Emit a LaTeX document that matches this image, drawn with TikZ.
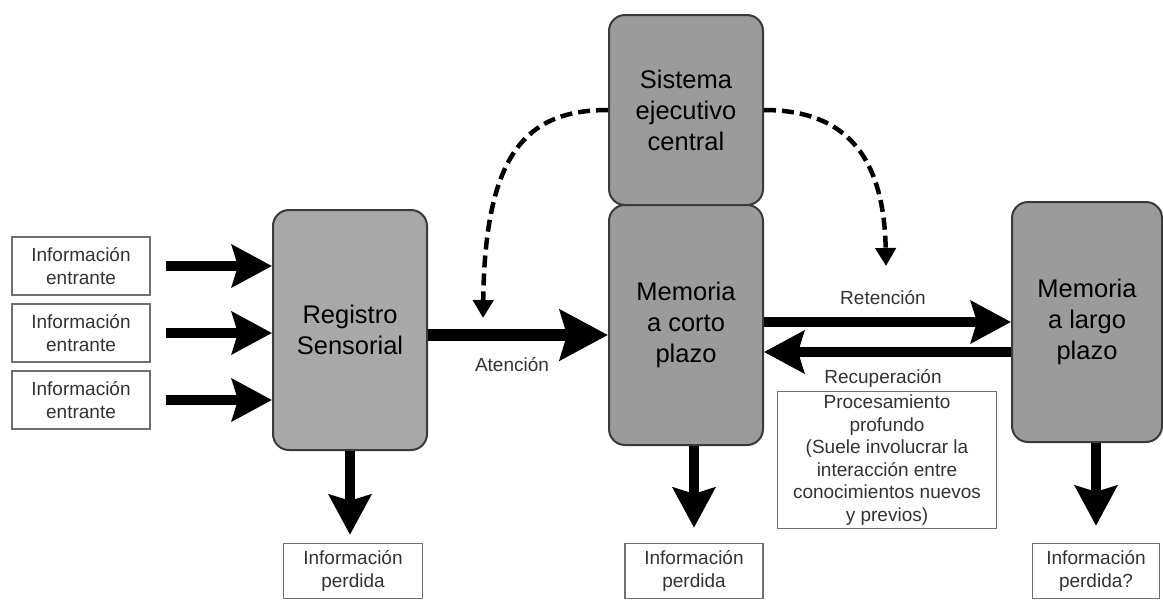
\documentclass[tikz,border=0pt]{standalone}
\usepackage{fontspec}
\setmainfont{Liberation Sans}
\usetikzlibrary{arrows.meta}
\definecolor{regfill}{HTML}{A8A8A8}
\definecolor{memfill}{HTML}{9B9B9B}
\definecolor{boxline}{HTML}{3A3A3A}
\definecolor{infoline}{HTML}{707070}
\definecolor{textgray}{HTML}{333333}
\newcommand{\smalltxt}{\fontsize{19}{22.5}\selectfont}
\newcommand{\bigtxt}{\fontsize{25.5}{31}\selectfont}
\begin{document}
\begin{tikzpicture}[
  x=1pt, y=-1pt,
  membox/.style={rectangle, rounded corners=16pt, draw=boxline, line width=2pt, fill=memfill, align=center, font=\bigtxt, minimum width=154pt},
  infobox/.style={rectangle, draw=infoline, line width=1.5pt, fill=white, align=center, font=\smalltxt, text=textgray, minimum height=55pt},
  lbl/.style={font=\smalltxt, text=textgray},
  bigarrow/.style={line width=10pt, -{Stealth[length=40pt,width=42pt,inset=6pt]}},
  dasharrow/.style={line width=4.5pt, dash pattern=on 12pt off 6pt, -{Triangle[length=18pt,width=20pt]}}
]
\useasboundingbox (0,0) rectangle (1163,603);

% main stores
\node[membox, fill=regfill, minimum height=240pt] (reg) at (350,330) {Registro\\Sensorial};
\node[membox, minimum height=190pt] (sis) at (686,110) {Sistema\\ejecutivo\\central};
\node[membox, minimum height=240pt, below of=sis, node distance=215pt] (stm) {Memoria\\a corto\\plazo};
\node[membox, minimum width=150pt, minimum height=240pt] (ltm) at (1087,322) {Memoria\\a largo\\plazo};

% incoming information
\node[infobox, minimum width=138pt, minimum height=58pt] (in1) at (81,266) {Información\\entrante};
\node[infobox, minimum width=138pt, minimum height=58pt, below of=in1, node distance=67pt] (in2) {Información\\entrante};
\node[infobox, minimum width=138pt, minimum height=58pt, below of=in2, node distance=67pt] (in3) {Información\\entrante};

% lost information
\node[infobox, minimum width=139pt] (lost1) at (353,571) {Información\\perdida};
\node[infobox, minimum width=138pt] (lost2) at (694,571) {Información\\perdida};
\node[infobox, minimum width=127pt] (lost3) at (1096,571) {Información\\perdida?};

\node[infobox, minimum width=219pt, minimum height=123pt] (deep) at (887,460) {Procesamiento\\profundo\\(Suele involucrar la\\interacción entre\\conocimientos nuevos\\y previos)};

\node[lbl] (attnlbl) at (512,365) {Atención};
\node[lbl] (retlbl) at (883,298) {Retención};
\node[lbl] (reclbl) at (883,378) {Recuperación};

\coordinate (attn) at (483,318);
\coordinate (ret) at (886,266);

\draw[bigarrow, shorten <=15pt] (in1.east) -- (in1.east -| reg.west);
\draw[bigarrow, shorten <=15pt] (in2.east) -- (in2.east -| reg.west);
\draw[bigarrow, shorten <=15pt] (in3.east) -- (in3.east -| reg.west);

\draw[line width=12pt, -{Stealth[length=48pt,width=50pt,inset=7pt]}] ([yshift=-5pt]reg.east) -- ([yshift=-5pt]reg.east -| stm.west);
\draw[bigarrow] ([yshift=3pt]stm.east) -- ([yshift=3pt]stm.east -| ltm.west);
\draw[bigarrow] ([yshift=-30pt]ltm.west) -- ([yshift=-30pt]ltm.west -| stm.east);

\draw[bigarrow, shorten >=8pt] (reg.south) -- (reg.south |- lost1.north);
\draw[bigarrow, shorten >=15pt] (stm.south -| lost2.north) -- (lost2.north);
\draw[bigarrow, shorten >=17pt] (ltm.south -| lost3.north) -- (lost3.north);

\draw[dasharrow] (sis.west) .. controls (525,110) and (485,155) .. (attn);
\draw[dasharrow] (sis.east) .. controls (840,110) and (884,150) .. (ret);
\end{tikzpicture}
\end{document}
